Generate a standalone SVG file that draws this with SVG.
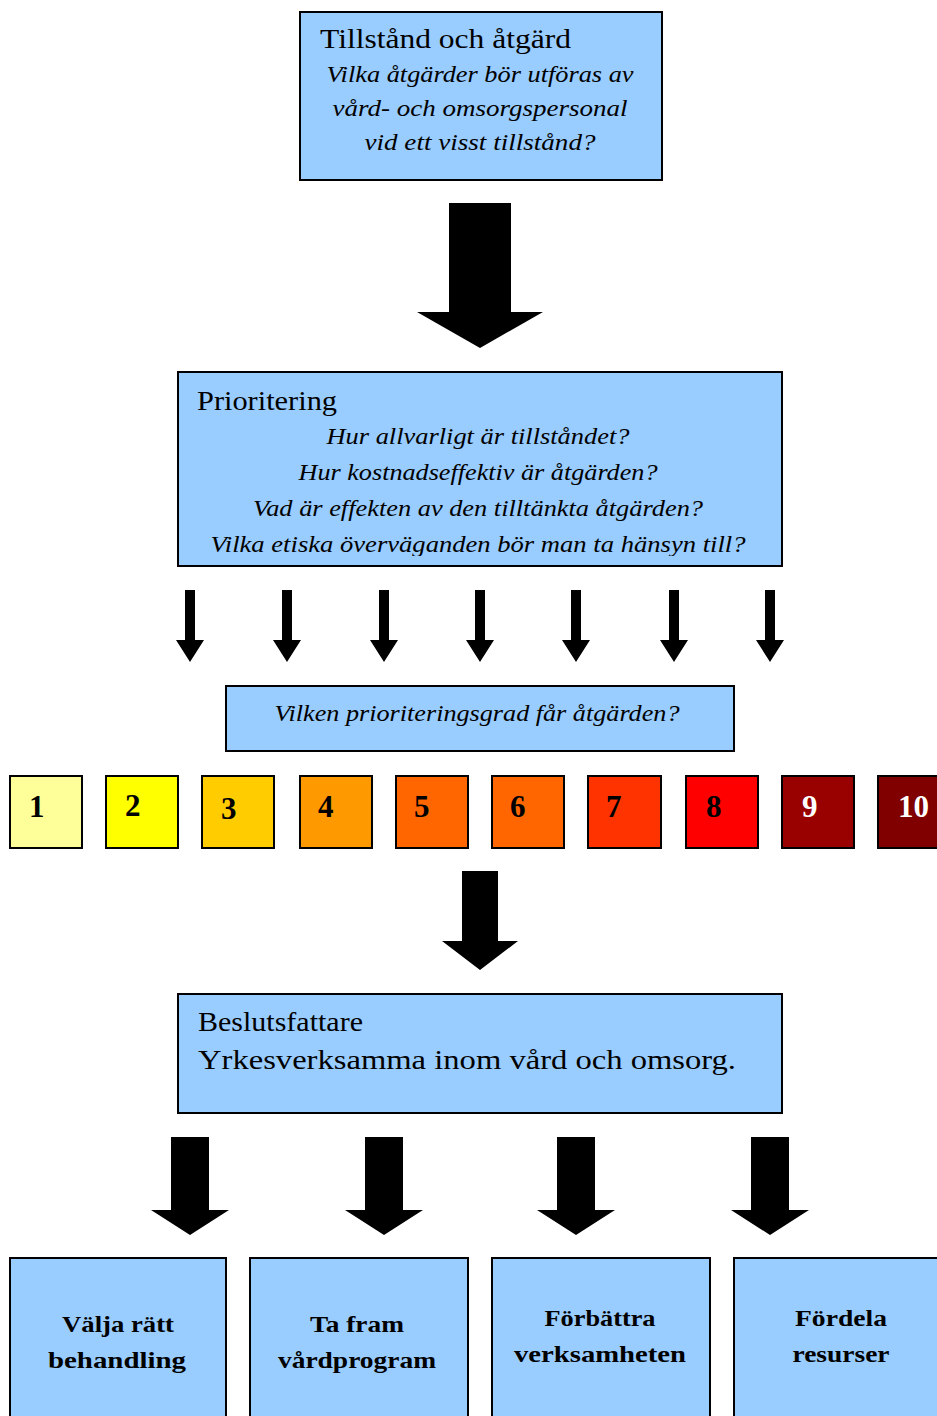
<svg xmlns="http://www.w3.org/2000/svg" width="937" height="1416" viewBox="0 0 937 1416">
<style>
.box{fill:#99CCFF;stroke:#000;stroke-width:2}
.num{stroke:#000;stroke-width:2}
.title{font-family:"Liberation Serif","Times New Roman",serif;font-size:28px;fill:#000}
.it{font-family:"Liberation Serif","Times New Roman",serif;font-style:italic;font-size:23px;fill:#000;text-anchor:middle}
.nb{font-family:"Liberation Serif","Times New Roman",serif;font-weight:bold;font-size:31px;fill:#000}
.wh{fill:#FFFFFF}
.bb{font-family:"Liberation Serif","Times New Roman",serif;font-weight:bold;font-size:24px;fill:#000;text-anchor:middle}
.arrow{fill:#000}
</style>
<defs>
<clipPath id="clipPrio"><rect x="179" y="373" width="602" height="183"/></clipPath>
</defs>
<g id="connectors">
<polygon class="arrow" points="449,203 511,203 511,312 543,312 480,348 417,312 449,312"/>
<polygon class="arrow" points="185,590 195,590 195,640 204,640 190,662 176,640 185,640"/>
<polygon class="arrow" points="282,590 292,590 292,640 301,640 287,662 273,640 282,640"/>
<polygon class="arrow" points="379,590 389,590 389,640 398,640 384,662 370,640 379,640"/>
<polygon class="arrow" points="475,590 485,590 485,640 494,640 480,662 466,640 475,640"/>
<polygon class="arrow" points="571,590 581,590 581,640 590,640 576,662 562,640 571,640"/>
<polygon class="arrow" points="669,590 679,590 679,640 688,640 674,662 660,640 669,640"/>
<polygon class="arrow" points="765,590 775,590 775,640 784,640 770,662 756,640 765,640"/>
<polygon class="arrow" points="462,871 498,871 498,941 518,941 480,970 442,941 462,941"/>
<polygon class="arrow" points="171,1137 209,1137 209,1210 229,1210 190,1235 151,1210 171,1210"/>
<polygon class="arrow" points="365,1137 403,1137 403,1210 423,1210 384,1235 345,1210 365,1210"/>
<polygon class="arrow" points="557,1137 595,1137 595,1210 615,1210 576,1235 537,1210 557,1210"/>
<polygon class="arrow" points="751,1137 789,1137 789,1210 809,1210 770,1235 731,1210 751,1210"/>
</g>
<g id="tillstand">
<rect class="box" x="300" y="12" width="362" height="168"/>
<text class="title" x="320" y="48" textLength="251" lengthAdjust="spacingAndGlyphs">Tillstånd  och åtgärd</text>
<text class="it" x="480" y="82" textLength="307" lengthAdjust="spacingAndGlyphs">Vilka åtgärder  bör utföras av</text>
<text class="it" x="480" y="116" textLength="295" lengthAdjust="spacingAndGlyphs">vård- och omsorgspersonal</text>
<text class="it" x="480" y="150" textLength="231" lengthAdjust="spacingAndGlyphs">vid ett visst tillstånd?</text>
</g>
<g id="prioritering">
<rect class="box" x="178" y="372" width="604" height="194"/>
<text class="title" x="197" y="410" textLength="140" lengthAdjust="spacingAndGlyphs">Prioritering</text>
<g clip-path="url(#clipPrio)">
<text class="it" x="478" y="444" textLength="303" lengthAdjust="spacingAndGlyphs">Hur allvarligt är tillståndet?</text>
<text class="it" x="478" y="480" textLength="359" lengthAdjust="spacingAndGlyphs">Hur kostnadseffektiv  är åtgärden?</text>
<text class="it" x="478" y="516" textLength="450" lengthAdjust="spacingAndGlyphs">Vad är effekten av den tilltänkta åtgärden?</text>
<text class="it" x="478" y="552" textLength="535" lengthAdjust="spacingAndGlyphs">Vilka etiska överväganden bör man ta hänsyn till?</text>
</g>
</g>
<g id="prioriteringsgrad">
<rect class="box" x="226" y="686" width="508" height="65"/>
<text class="it" x="477" y="721" textLength="405" lengthAdjust="spacingAndGlyphs">Vilken prioriteringsgrad  får åtgärden?</text>
</g>
<g id="grad1"><rect class="num" x="10" y="776" width="72" height="72" fill="#FFFF99"/><text class="nb" x="29" y="817">1</text></g>
<g id="grad2"><rect class="num" x="106" y="776" width="72" height="72" fill="#FFFF00"/><text class="nb" x="125" y="816">2</text></g>
<g id="grad3"><rect class="num" x="202" y="776" width="72" height="72" fill="#FFCC00"/><text class="nb" x="221" y="819">3</text></g>
<g id="grad4"><rect class="num" x="300" y="776" width="72" height="72" fill="#FF9900"/><text class="nb" x="318" y="817">4</text></g>
<g id="grad5"><rect class="num" x="396" y="776" width="72" height="72" fill="#FF6600"/><text class="nb" x="414" y="817">5</text></g>
<g id="grad6"><rect class="num" x="492" y="776" width="72" height="72" fill="#FF6600"/><text class="nb" x="510" y="817">6</text></g>
<g id="grad7"><rect class="num" x="588" y="776" width="73" height="72" fill="#FF3300"/><text class="nb" x="606" y="817">7</text></g>
<g id="grad8"><rect class="num" x="686" y="776" width="72" height="72" fill="#FF0000"/><text class="nb" x="706" y="817">8</text></g>
<g id="grad9"><rect class="num" x="782" y="776" width="72" height="72" fill="#990000"/><text class="nb wh" x="802" y="817">9</text></g>
<g id="grad10"><rect class="num" x="878" y="776" width="72" height="72" fill="#800000"/><text class="nb wh" x="898" y="817">10</text></g>
<g id="beslutsfattare">
<rect class="box" x="178" y="994" width="604" height="119"/>
<text class="title" x="198" y="1031" textLength="165" lengthAdjust="spacingAndGlyphs">Beslutsfattare</text>
<text class="title" x="198" y="1069" textLength="538" lengthAdjust="spacingAndGlyphs">Yrkesverksamma inom vård och omsorg.</text>
</g>
<g id="valja">
<rect class="box" x="10" y="1258" width="216" height="170"/>
<text class="bb" x="118" y="1332" textLength="112" lengthAdjust="spacingAndGlyphs">Välja rätt</text>
<text class="bb" x="117" y="1368" textLength="138" lengthAdjust="spacingAndGlyphs">behandling</text>
</g>
<g id="tafram">
<rect class="box" x="250" y="1258" width="218" height="170"/>
<text class="bb" x="357" y="1332" textLength="94" lengthAdjust="spacingAndGlyphs">Ta fram</text>
<text class="bb" x="357" y="1368" textLength="158" lengthAdjust="spacingAndGlyphs">vårdprogram</text>
</g>
<g id="forbattra">
<rect class="box" x="492" y="1258" width="218" height="170"/>
<text class="bb" x="600" y="1326" textLength="111" lengthAdjust="spacingAndGlyphs">Förbättra</text>
<text class="bb" x="600" y="1362" textLength="172" lengthAdjust="spacingAndGlyphs">verksamheten</text>
</g>
<g id="fordela">
<rect class="box" x="734" y="1258" width="218" height="170"/>
<text class="bb" x="841" y="1326" textLength="92" lengthAdjust="spacingAndGlyphs">Fördela</text>
<text class="bb" x="841" y="1362" textLength="97" lengthAdjust="spacingAndGlyphs">resurser</text>
</g>
</svg>
